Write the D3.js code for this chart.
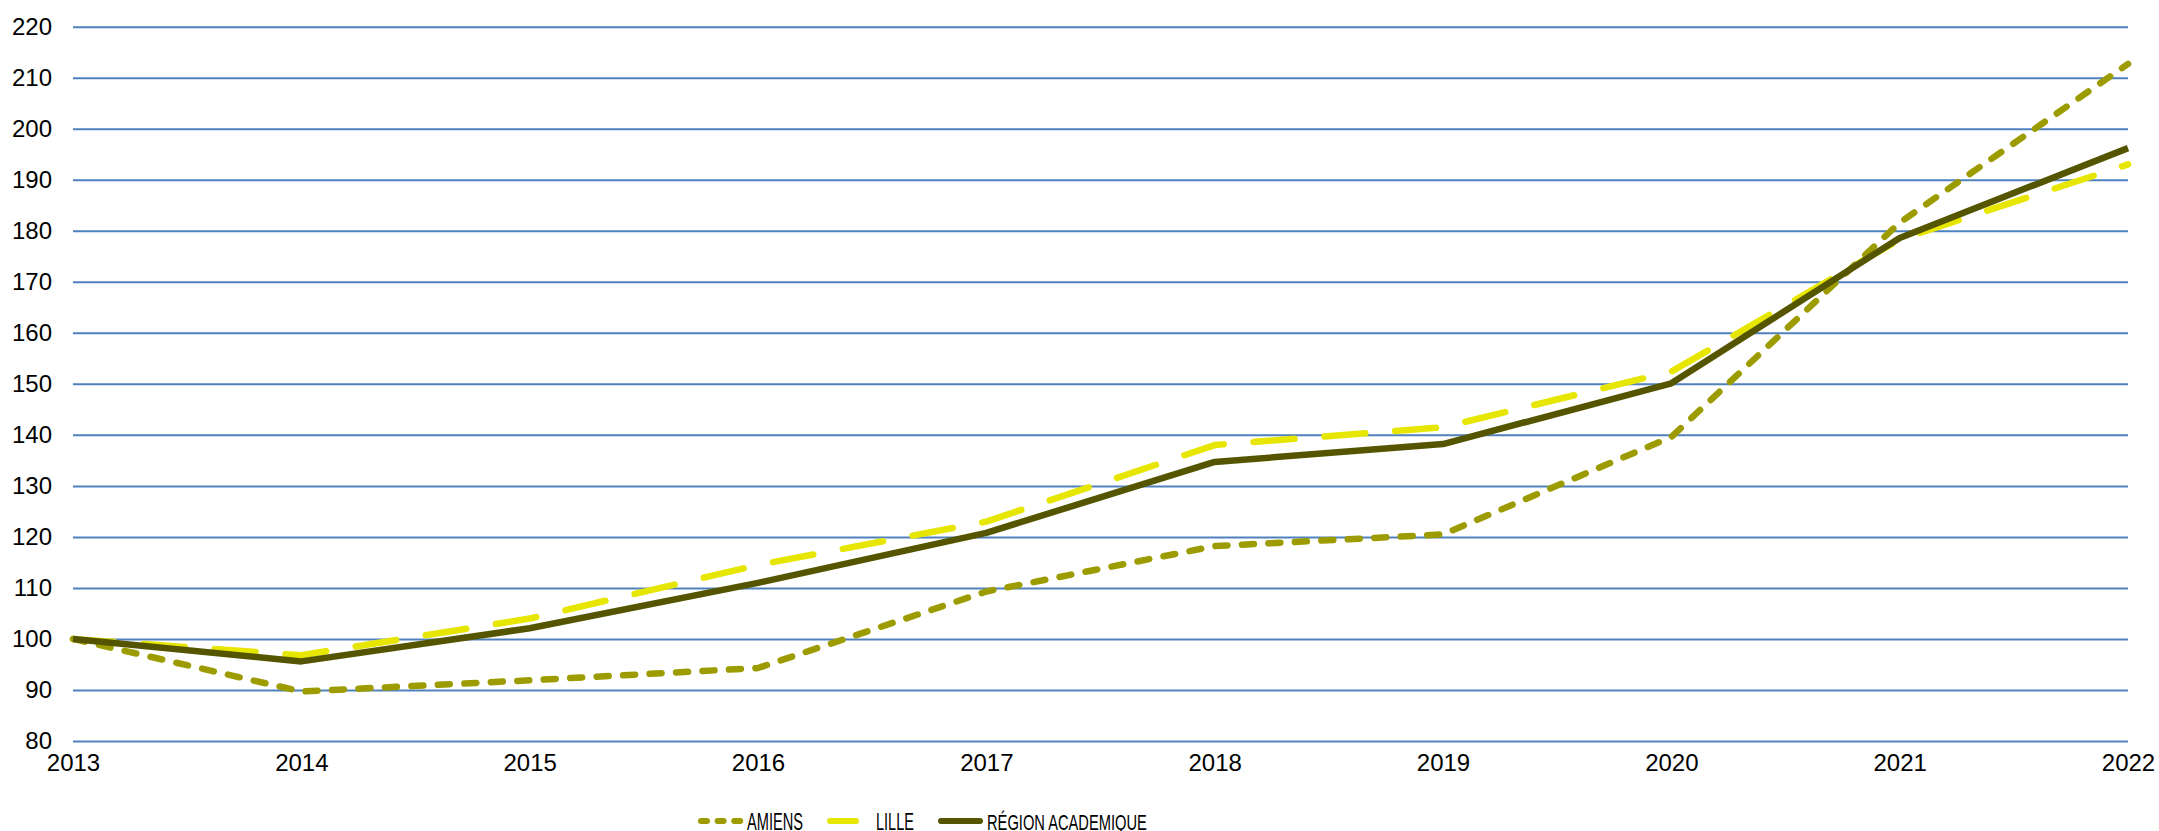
<!DOCTYPE html>
<html>
<head>
<meta charset="utf-8">
<script src="https://cdn.jsdelivr.net/npm/d3@7"></script>
<style>
	body { margin: 0; background: #fff; }
	text { font-family: "Liberation Sans", Arial, Helvetica, sans-serif; fill: #000; }
</style>
</head>
<body>
<div id="chart"></div>
<script>
var years = [2013, 2014, 2015, 2016, 2017, 2018, 2019, 2020, 2021, 2022];
var amiens = [100, 89.7, 91.9, 94.3, 109.3, 118.2, 120.5, 139.6, 181.6, 212.7];
var lille = [100, 96.8, 104.0, 114.5, 123.0, 138.0, 141.5, 152.4, 178.3, 193.0];
var region = [100, 95.6, 102.1, 111.0, 120.8, 134.7, 138.2, 150.1, 178.6, 196.2];
var yTicks = [80, 90, 100, 110, 120, 130, 140, 150, 160, 170, 180, 190, 200, 210, 220];
var seriesNames = ['AMIENS', 'LILLE', 'RÉGION ACADEMIQUE'];

var W = 2159, H = 831;
var plotLeft = 73, plotRight = 2128, plotTop = 26.7, plotBottom = 741;

var svg = d3.select('#chart').append('svg')
	.attr('width', W)
	.attr('height', H);

var x = d3.scaleLinear().domain([2013, 2022]).range([plotLeft, plotRight]);
var y = d3.scaleLinear().domain([80, 220]).range([plotBottom, plotTop]);

// horizontal grid + y labels
svg.append('g')
	.attr('transform', 'translate(' + plotLeft + ',0)')
	.call(d3.axisLeft(y).tickValues(yTicks).tickSize(-(plotRight - plotLeft)).tickPadding(21).tickFormat(d3.format('d')))
	.call(function(g){
		g.select('.domain').remove();
		g.selectAll('.tick line').attr('stroke', '#4f81bd').attr('stroke-width', 2);
		g.selectAll('.tick text').attr('font-size', 24).attr('font-family', null);
	});

// x labels
svg.append('g')
	.attr('transform', 'translate(0,' + plotBottom + ')')
	.call(d3.axisBottom(x).tickValues(years).tickSize(0).tickPadding(13).tickFormat(d3.format('d')))
	.call(function(g){
		g.select('.domain').remove();
		g.selectAll('.tick text').attr('font-size', 24).attr('font-family', null);
	});

var series = [
	{ name: seriesNames[0], values: amiens, color: '#9c9c00', dash: '12 14.5', cap: 'round', width: 6.5 },
	{ name: seriesNames[1], values: lille, color: '#e6e600', dash: '41 30', cap: 'round', width: 6.5 },
	{ name: seriesNames[2], values: region, color: '#555500', dash: null, cap: 'butt', width: 6.5 }
];

var line = d3.line()
	.x(function(d, i){ return x(years[i]); })
	.y(function(d){ return y(d); });

// lille underneath, then amiens, region on top
[series[1], series[0], series[2]].forEach(function(s){
	svg.append('path')
		.attr('d', line(s.values))
		.attr('fill', 'none')
		.attr('stroke', s.color)
		.attr('stroke-width', s.width)
		.attr('stroke-linecap', s.cap)
		.attr('stroke-linejoin', 'round')
		.attr('stroke-dasharray', s.dash);
});

// legend (text is narrow in the original, so squeeze it)
var legend = [
	{ s: series[0], x0: 701, x1: 740.2, tx: 747, tw: 56 },
	{ s: series[1], x0: 830, x1: 856, tx: 876, tw: 38 },
	{ s: series[2], x0: 941, x1: 980, tx: 987, tw: 160 }
];
var ly = 821;
legend.forEach(function(l){
	svg.append('line')
		.attr('x1', l.x0).attr('x2', l.x1)
		.attr('y1', ly).attr('y2', ly)
		.attr('stroke', l.s.color)
		.attr('stroke-width', 6)
		.attr('stroke-linecap', 'round')
		.attr('stroke-dasharray', l.s.name === 'AMIENS' ? '6 10.6' : null);
	var g = svg.append('g');
	var t = g.append('text')
		.attr('x', 0).attr('y', 0)
		.attr('font-size', 23)
		.text(l.s.name);
	var w = t.node().getComputedTextLength();
	g.attr('transform', 'translate(' + l.tx + ',' + (ly + 8.5) + ') scale(' + (l.tw / w) + ',1)');
});
</script>
</body>
</html>
